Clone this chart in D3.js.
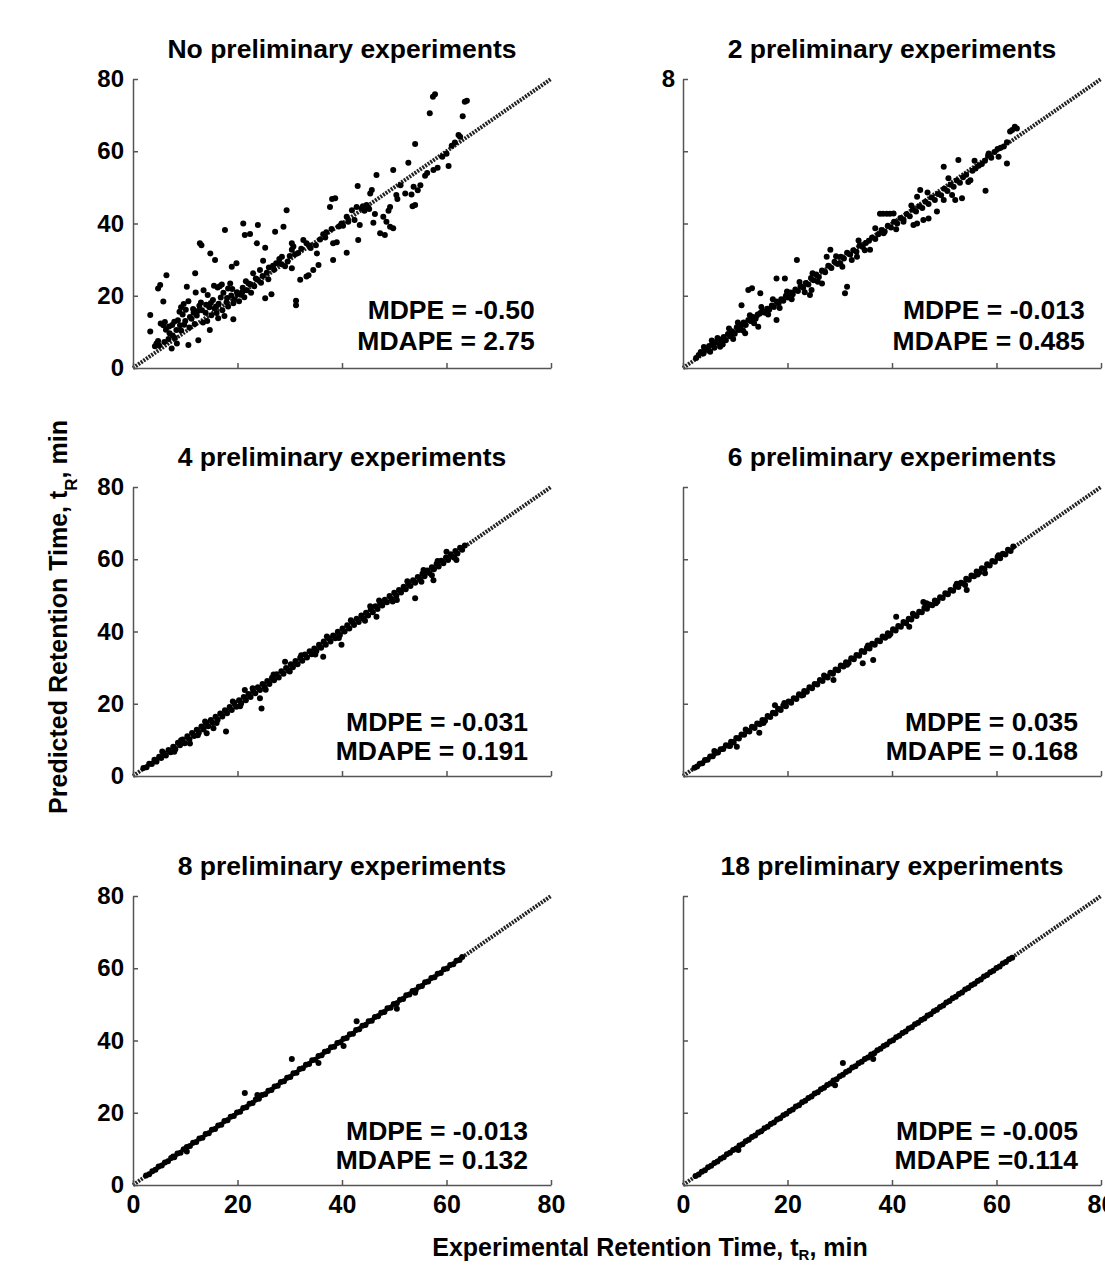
<!DOCTYPE html>
<html>
<head>
<meta charset="utf-8">
<script src="https://cdn.jsdelivr.net/npm/d3@7"></script>
<style>
body { margin: 0; background: #fff; overflow: hidden; }
text { font-family: "Liberation Sans", Arial, sans-serif; font-weight: bold; fill: #000; }
</style>
</head>
<body>
<script>
// predicted vs experimental retention time (min)
var ptsNone = [
  [3.3,14.7],[3.3,10.1],[4.5,6.8],[4.2,6.0],[4.8,7.5],[5.0,6.2],[5.2,23.0],[4.8,22.0],[5.8,18.4],[5.3,12.3],
  [5.8,11.8],[6.1,12.7],[6.4,25.7],[6.3,10.6],[6.9,11.5],[7.0,9.6],[7.4,5.4],[7.5,11.9],[7.9,12.8],[8.0,8.3],
  [8.4,6.8],[8.6,13.2],[8.9,15.6],[9.2,16.8],[9.5,14.8],[9.7,17.7],[9.2,10.4],[9.8,12.0],[10.3,22.5],[10.6,6.4],
  [10.1,16.1],[10.6,18.5],[10.8,11.2],[11.2,13.6],[11.5,16.3],[11.9,26.2],[11.8,12.2],[12.5,7.7],[12.2,14.5],[12.8,34.5],
  [13.1,34.0],[12.7,17.2],[13.0,18.1],[13.4,12.6],[13.9,15.3],[14.2,13.0],[14.7,10.5],[14.8,31.7],[14.6,16.8],[15.0,14.6],
  [15.3,18.8],[15.7,29.9],[15.9,17.0],[16.0,15.2],[16.3,13.8],[16.6,22.6],[16.8,19.5],[17.1,16.0],[17.5,14.4],[17.6,38.2],
  [17.9,18.2],[18.2,17.0],[18.6,23.4],[18.9,28.0],[18.8,20.1],[19.2,17.9],[19.2,13.5],[19.4,19.0],[19.8,29.0],[19.9,21.0],
  [20.3,18.5],[20.6,20.3],[21.0,22.2],[21.1,40.0],[21.4,36.8],[21.3,19.6],[21.8,21.5],[22.1,23.4],[22.4,37.1],[22.6,20.8],
  [23.0,26.2],[23.2,22.6],[23.7,34.5],[23.9,39.6],[23.8,24.5],[24.3,27.1],[24.5,23.6],[24.9,29.7],[25.3,33.3],[25.3,19.3],
  [25.6,26.4],[26.0,27.8],[26.5,20.4],[26.8,28.3],[27.2,37.7],[27.4,29.0],[28.0,30.2],[28.5,30.8],[28.8,39.1],[29.1,28.2],
  [29.4,43.7],[30.0,31.0],[30.4,34.5],[30.4,32.7],[30.7,33.6],[30.4,27.6],[31.2,18.6],[31.2,17.4],[31.6,31.8],[32.0,24.4],
  [32.6,35.4],[33.2,34.5],[33.2,25.3],[33.6,25.7],[34.0,33.2],[34.5,27.1],[35.2,31.7],[35.5,28.5],[35.8,35.6],[36.4,37.0],
  [37.0,37.6],[37.7,44.6],[38.3,34.5],[38.3,29.9],[38.7,47.0],[38.1,46.8],[39.0,34.8],[39.9,40.0],[40.2,39.4],[40.9,41.9],
  [40.9,31.9],[41.9,43.7],[42.4,41.0],[42.8,44.6],[43.1,35.4],[43.4,39.6],[43.0,50.4],[43.8,44.2],[44.3,43.5],[44.7,45.1],
  [45.2,44.0],[45.4,48.3],[45.7,49.3],[46.0,40.2],[46.3,42.6],[46.6,53.4],[47.3,37.3],[47.9,41.9],[48.2,36.8],[48.5,40.5],
  [49.2,39.1],[49.8,38.7],[48.9,43.5],[49.2,44.6],[49.8,54.8],[50.4,47.9],[50.6,46.8],[51.2,50.6],[52.1,48.3],[52.7,56.8],
  [53.3,48.0],[53.5,44.8],[53.7,50.2],[54.0,45.1],[54.0,62.0],[54.5,49.2],[55.0,50.6],[55.9,53.2],[56.3,54.0],[56.8,70.5],
  [57.4,75.1],[57.8,75.8],[57.5,54.8],[58.3,55.4],[59.2,58.5],[60.0,59.3],[60.4,55.9],[61.0,61.5],[61.6,62.4],[62.3,64.5],
  [62.6,64.0],[63.1,69.7],[63.5,73.7],[63.9,74.0],
  [6.0,7.2],[6.8,8.0],[7.6,9.0],[8.3,10.5],[9.0,11.8],[10.0,13.0],[10.9,14.1],[11.6,15.3],[12.4,15.8],[13.2,16.0],
  [14.0,17.5],[14.9,18.0],[15.6,16.5],[16.4,17.8],[17.3,20.8],[18.0,19.4],[19.0,21.9],[20.0,20.5],[20.9,21.0],[21.6,24.0],
  [22.5,23.2],[23.5,24.8],[24.8,25.5],[25.9,24.6],[27.0,27.2],[28.3,28.8],[29.6,29.5],[31.0,31.5],[32.2,33.0],[33.8,33.9],
  [35.0,34.0],[36.8,36.1],[38.0,38.5],[39.4,39.2],[41.2,40.5],[44.0,44.8],[45.0,44.5],
  [12.0,20.9],[13.5,21.5],[14.3,20.2],[15.5,22.8],[16.2,22.3],[17.0,23.1],[18.2,22.0]
];

var pts2 = [
  [2.5,2.8],[3.0,3.6],[3.4,4.4],[3.9,4.0],[4.3,5.2],[4.8,4.9],[5.2,4.5],[5.0,6.1],[5.6,6.5],[6.0,5.6],
  [6.3,7.2],[6.8,6.9],[7.1,5.9],[7.3,7.9],[7.8,8.6],[8.2,7.7],[8.6,9.4],[9.0,8.8],[9.4,10.2],[9.9,9.5],
  [10.3,11.3],[10.7,10.5],[11.2,11.8],[11.2,17.4],[11.6,12.6],[11.9,9.6],[12.0,11.9],[12.5,21.6],[12.5,13.3],[13.0,13.0],
  [13.2,22.1],[13.4,14.1],[13.9,13.6],[14.4,11.4],[14.3,14.8],[14.8,20.7],[14.8,15.2],[15.2,15.8],[15.7,15.3],[16.1,16.4],
  [16.5,16.1],[17.0,17.3],[17.4,16.9],[17.9,24.8],[17.9,13.3],[17.9,18.4],[18.3,17.9],[18.8,19.0],[19.2,18.6],[19.5,24.8],
  [19.7,20.0],[20.1,19.5],[20.6,20.9],[21.0,20.4],[21.5,21.7],[21.8,29.9],[22.0,21.3],[22.5,22.6],[23.0,22.2],[23.5,23.5],
  [24.0,23.1],[24.3,20.2],[24.6,21.6],[24.5,24.9],[25.0,24.3],[25.5,25.9],[26.0,25.2],[26.6,23.4],[26.6,27.0],[27.2,26.5],
  [27.5,30.8],[27.8,28.3],[28.2,32.7],[28.4,27.7],[29.0,29.4],[29.6,28.8],[30.1,29.0],[30.2,30.8],[30.8,30.3],[31.0,20.7],
  [31.4,22.5],[31.4,31.9],[32.0,31.4],[32.3,29.9],[32.6,32.6],[33.2,32.2],[33.3,30.8],[33.8,33.9],[34.4,33.5],[35.0,34.6],
  [35.8,32.7],[35.6,35.2],[36.2,36.1],[36.8,35.7],[37.4,37.0],[37.7,42.7],[38.3,42.7],[38.4,37.3],[38.0,38.2],[38.6,37.8],
  [39.0,42.7],[39.2,39.4],[39.6,42.7],[39.8,38.9],[40.3,42.8],[40.4,40.5],[41.0,40.0],[41.6,41.5],[42.2,40.5],[42.2,41.1],
  [42.8,42.6],[43.4,42.0],[44.0,43.8],[44.1,39.6],[44.6,43.3],[44.8,40.0],[44.8,47.4],[45.2,44.8],[45.4,49.3],[45.8,44.3],
  [46.0,41.0],[46.4,46.0],[47.0,41.4],[47.0,45.4],[47.6,47.2],[48.2,46.5],[48.6,43.3],[48.8,48.2],[49.4,47.8],[49.9,55.7],
  [49.9,46.5],[50.0,49.6],[50.6,49.0],[51.2,50.7],[51.5,47.9],[51.8,50.2],[52.1,46.5],[52.4,51.9],[52.7,57.6],[53.0,51.3],
  [53.4,47.0],[53.6,52.8],[54.2,53.5],[54.6,51.5],[55.0,52.0],[55.4,54.6],[56.0,55.2],[56.6,56.0],[57.2,56.5],[57.9,49.1],
  [57.8,57.4],[58.4,58.8],[58.5,59.4],[59.0,58.2],[59.6,59.8],[60.4,58.5],[60.2,60.6],[60.8,61.0],[61.4,61.3],[62.0,56.6],
  [62.0,62.5],[62.6,65.5],[63.0,65.9],[63.5,66.8],[63.9,66.3],
  [4.0,5.8],[5.5,7.6],[6.6,8.3],[7.6,6.5],[8.8,10.9],[9.6,8.0],[10.5,12.6],[11.5,10.4],[12.8,14.6],[13.6,12.4],
  [15.0,16.9],[16.3,14.8],[17.2,19.0],[18.5,16.6],[19.9,21.2],[20.8,19.0],[22.3,23.8],[23.3,21.0],[24.8,26.2],[25.8,23.9],
  [29.3,30.9],[30.5,28.0],[33.6,35.3],[34.8,32.6],[36.8,38.7],[40.8,38.4],[43.7,45.0],[46.8,48.6],[50.8,52.5],[55.8,57.4]
];

var pts4 = [
  [2.0,2.2],[2.6,2.4],[3.1,3.4],[3.6,3.3],[4.1,4.5],[4.5,4.0],[5.0,5.3],[5.4,5.0],[5.9,6.3],[6.3,5.7],
  [6.8,7.2],[7.2,6.6],[7.7,8.1],[8.1,7.4],[8.6,9.2],[9.0,8.5],[9.5,10.1],[9.9,9.1],[10.4,11.0],[10.8,10.2],
  [10.9,9.0],[11.3,11.9],[11.7,11.1],[12.2,12.8],[12.6,12.0],[13.1,13.7],[13.5,12.9],[14.0,14.6],[14.1,11.8],[14.4,13.8],
  [14.9,15.5],[15.3,14.7],[15.4,13.2],[15.8,16.4],[16.2,15.6],[16.7,17.3],[17.1,16.5],[17.6,18.2],[17.8,12.3],[18.0,17.4],
  [18.5,19.1],[18.9,18.3],[19.4,20.2],[19.8,19.2],[20.3,21.0],[20.7,20.1],[21.2,21.9],[21.4,23.8],[21.6,21.0],[22.1,22.7],
  [22.5,21.9],[23.0,23.6],[23.4,22.9],[23.9,24.6],[24.3,21.5],[24.3,23.8],[24.6,18.7],[24.8,25.5],[25.2,24.6],[25.7,26.3],
  [26.1,25.5],[26.6,27.2],[27.0,26.5],[27.5,28.2],[27.9,27.3],[28.4,29.0],[28.8,28.3],[29.1,31.6],[29.3,29.9],[29.7,29.2],
  [30.2,30.9],[30.6,30.1],[31.1,31.8],[31.5,30.9],[32.0,32.7],[32.4,31.9],[32.9,33.6],[33.3,32.8],[33.8,34.5],[34.2,33.7],
  [34.7,35.3],[35.1,34.6],[35.6,36.3],[36.0,35.5],[36.4,33.0],[36.5,37.2],[36.9,36.3],[37.4,38.1],[37.8,37.2],[38.3,38.9],
  [38.7,38.1],[39.2,39.9],[39.6,39.0],[39.9,36.3],[40.1,40.8],[40.5,40.0],[41.0,41.7],[41.4,40.8],[41.9,42.6],[42.3,41.8],
  [42.8,43.5],[43.2,42.6],[43.7,44.4],[44.1,43.6],[44.6,45.2],[45.0,44.4],[45.4,47.0],[45.5,46.1],[45.9,45.3],[46.4,47.0],
  [46.6,44.1],[46.8,46.2],[47.3,47.9],[47.7,47.2],[48.2,48.8],[48.6,48.1],[49.1,49.8],[49.5,49.0],[50.0,50.7],[50.4,49.9],
  [50.5,48.7],[50.9,51.5],[51.3,50.8],[51.8,52.4],[52.2,51.7],[52.7,53.3],[53.1,52.6],[53.6,54.2],[54.0,49.2],[54.0,53.5],
  [54.5,55.1],[54.9,54.4],[55.4,56.0],[55.6,57.0],[55.8,55.3],[56.3,56.9],[56.7,56.2],[57.2,55.6],[57.5,54.2],[57.2,57.8],
  [57.6,57.2],[58.1,58.7],[58.5,58.0],[59.0,59.6],[59.4,58.9],[59.9,60.5],[60.0,62.1],[60.3,59.8],[60.8,61.4],[61.2,60.7],
  [61.7,62.3],[61.9,59.8],[62.1,61.6],[62.6,63.2],[63.0,62.6],[63.5,63.8],
  [5.6,6.8],[7.9,6.7],[9.2,9.9],[12.4,11.3],[13.8,15.1],[16.0,14.7],[19.1,20.6],[20.5,19.3],[22.9,24.3],[25.4,23.9],
  [26.9,28.1],[30.0,28.9],[32.2,33.4],[34.9,33.6],[37.1,38.6],[39.4,38.2],[41.7,43.1],[44.4,43.0],[47.1,48.6],[49.7,48.3],
  [52.5,53.9],[55.2,53.8],[58.3,59.5],[61.5,60.4]
];

var pts6 = [
  [2.2,2.3],[2.7,2.6],[3.2,3.4],[3.7,3.5],[4.2,4.4],[4.7,4.5],[5.2,5.4],[5.7,5.5],[6.2,6.4],[6.7,6.5],
  [7.2,7.4],[7.7,7.5],[8.2,8.5],[8.7,8.4],[9.2,9.5],[9.7,9.3],[10.2,10.5],[10.3,8.1],[10.7,10.4],[11.2,11.5],
  [11.7,11.4],[12.2,12.5],[12.7,12.3],[13.2,13.6],[13.7,13.3],[14.2,14.5],[14.6,12.0],[14.7,14.3],[15.2,15.5],[15.7,15.3],
  [16.2,16.6],[16.7,16.3],[17.2,17.5],[17.6,19.6],[17.7,17.3],[18.2,18.6],[18.7,18.3],[19.2,19.5],[19.7,19.3],[20.2,20.6],
  [20.7,20.3],[21.2,21.5],[21.7,21.3],[22.2,22.6],[22.7,22.3],[23.2,23.5],[23.7,23.3],[24.2,24.6],[24.7,24.3],[25.2,25.5],
  [25.7,25.3],[26.2,26.6],[26.7,26.3],[27.2,27.5],[27.7,27.3],[28.2,28.6],[28.8,26.6],[28.7,28.3],[29.2,29.5],[29.7,29.3],
  [30.2,30.6],[30.7,30.3],[31.2,31.5],[31.7,31.3],[32.2,32.6],[32.7,32.3],[33.2,33.5],[33.7,33.3],[34.2,34.6],[34.4,31.2],
  [34.7,34.3],[35.2,35.5],[35.7,35.3],[36.2,36.6],[36.4,32.1],[36.7,36.3],[37.2,37.5],[37.7,37.3],[38.2,38.6],[38.7,38.3],
  [39.2,39.5],[39.7,39.3],[40.2,40.6],[40.8,44.1],[40.7,40.3],[41.2,41.5],[41.7,41.3],[42.2,42.6],[42.7,42.3],[43.3,41.3],
  [43.2,43.5],[43.7,43.3],[44.2,44.6],[44.7,44.3],[45.2,45.5],[45.7,45.3],[46.0,48.2],[46.6,47.8],[46.2,46.6],[46.7,46.3],
  [47.2,47.5],[47.7,47.3],[48.2,48.6],[48.7,48.3],[49.2,49.5],[49.7,49.3],[50.2,50.6],[50.7,50.3],[51.2,51.5],[51.7,51.3],
  [52.2,52.6],[52.7,52.3],[53.2,53.5],[53.7,53.3],[54.0,52.9],[54.3,51.5],[54.2,54.6],[54.7,54.3],[55.2,55.5],[55.7,55.3],
  [56.2,56.6],[56.7,56.3],[57.2,57.5],[57.8,56.1],[57.7,57.3],[58.2,58.6],[58.7,58.3],[59.2,59.5],[59.7,59.3],[60.2,60.6],
  [60.7,60.3],[61.2,61.5],[61.7,61.3],[62.2,62.6],[62.7,62.3],[63.2,63.5],
  [6.0,6.9],[9.0,8.3],[12.0,12.9],[15.4,14.7],[19.4,20.2],[23.0,22.4],[27.0,27.8],[31.4,30.8],[35.4,36.1],[39.4,38.8],
  [44.0,44.9],[48.4,47.8],[52.4,53.2],[56.4,55.8],[60.4,61.1]
];

var pts8 = [
  [2.5,2.6],[3.1,3.0],[3.7,3.8],[4.3,4.2],[4.9,5.1],[5.5,5.4],[6.1,6.2],[6.7,6.6],[7.3,7.5],[7.7,7.9],
  [7.9,7.7],[8.5,8.7],[9.1,8.9],[9.7,9.9],[10.3,9.3],[10.3,10.5],[10.9,10.8],[11.5,11.7],[12.1,11.9],[12.7,12.9],
  [13.3,13.1],[13.9,14.1],[14.5,14.3],[15.1,15.3],[15.7,15.5],[16.3,16.5],[16.9,16.7],[17.5,17.7],[18.1,17.9],[18.7,18.9],
  [19.3,19.1],[19.9,20.1],[20.5,20.3],[21.1,21.3],[21.4,25.5],[21.7,21.5],[22.3,22.5],[22.9,22.7],[23.5,23.7],[23.8,24.9],
  [24.1,23.9],[24.7,24.9],[25.3,25.1],[25.9,26.1],[26.5,26.3],[27.1,27.3],[27.7,27.5],[28.3,28.5],[28.9,28.7],[29.5,29.7],
  [30.1,29.9],[30.4,34.9],[30.7,30.9],[31.3,31.1],[31.9,32.1],[32.5,32.3],[33.1,33.3],[33.7,33.5],[34.3,34.5],[34.9,34.7],
  [35.5,33.8],[35.5,35.7],[36.1,35.9],[36.7,36.9],[37.3,37.1],[37.9,38.1],[38.5,38.3],[39.1,39.3],[39.7,39.5],[40.3,38.5],
  [40.3,40.5],[40.9,40.7],[41.5,41.7],[42.1,41.9],[42.8,45.3],[42.7,42.9],[43.3,43.1],[43.9,44.1],[44.5,44.3],[45.1,45.3],
  [45.7,45.5],[46.3,46.5],[46.9,46.7],[47.5,47.7],[48.1,47.9],[48.7,48.9],[49.3,49.1],[49.9,50.1],[50.5,48.8],[50.5,50.3],
  [51.1,51.3],[51.7,51.5],[52.3,52.5],[52.9,52.7],[53.5,53.7],[54.0,53.2],[54.1,53.9],[54.7,54.9],[55.3,55.1],[55.9,56.1],
  [56.5,56.3],[57.1,57.3],[57.7,57.5],[58.3,58.5],[58.9,58.7],[59.5,59.7],[60.1,59.9],[60.7,60.9],[61.3,61.1],[61.9,62.1],
  [62.5,62.3],[63.0,63.1]
];

var pts18 = [
  [2.4,2.5],[3.0,2.9],[3.6,3.7],[4.2,4.1],[4.8,4.9],[5.4,5.3],[6.0,6.1],[6.6,6.5],[7.2,7.3],[7.8,7.7],
  [8.4,8.5],[9.0,8.9],[9.6,9.7],[10.2,10.1],[10.6,9.7],[10.8,10.9],[11.4,11.3],[12.0,12.1],[12.6,12.5],[13.2,13.3],
  [13.8,13.7],[14.4,14.5],[15.0,14.9],[15.6,15.7],[16.2,16.1],[16.8,16.9],[17.4,17.3],[18.0,18.1],[18.6,18.5],[19.2,19.3],
  [19.8,19.7],[20.4,20.5],[21.0,20.9],[21.6,21.7],[22.2,22.1],[22.8,22.9],[23.4,23.3],[24.0,24.1],[24.6,24.5],[25.2,25.3],
  [25.8,25.7],[26.4,26.5],[27.0,26.9],[27.6,27.7],[28.2,28.1],[28.8,28.9],[29.1,27.6],[29.4,29.3],[30.0,30.1],[30.6,33.8],
  [30.6,30.5],[31.2,31.3],[31.8,31.7],[32.4,32.5],[33.0,32.9],[33.6,33.7],[34.2,34.1],[34.8,34.9],[35.4,35.3],[36.0,36.1],
  [36.4,34.9],[36.6,36.5],[37.2,37.3],[37.8,37.7],[38.4,38.5],[39.0,38.9],[39.6,39.7],[40.2,40.1],[40.8,40.9],[41.4,41.3],
  [42.0,42.1],[42.6,42.5],[43.2,43.3],[43.8,43.7],[44.4,44.5],[45.0,44.9],[45.6,45.7],[46.2,46.1],[46.8,46.9],[47.4,47.3],
  [48.0,48.1],[48.6,48.5],[49.2,49.3],[49.8,49.7],[50.4,50.5],[51.0,50.9],[51.6,51.7],[52.2,52.1],[52.8,52.9],[53.4,53.3],
  [54.0,54.1],[54.6,54.5],[55.2,55.3],[55.8,55.7],[56.4,56.5],[57.0,56.9],[57.6,57.7],[58.2,58.1],[58.8,58.9],[59.4,59.3],
  [60.0,60.1],[60.6,60.5],[61.2,61.3],[61.8,61.7],[62.4,62.5],[63.0,62.9]
];

var titles = ["No preliminary experiments", "2 preliminary experiments", "4 preliminary experiments",
              "6 preliminary experiments", "8 preliminary experiments", "18 preliminary experiments"];
var mdpe  = ["MDPE = -0.50", "MDPE = -0.013", "MDPE = -0.031", "MDPE = 0.035", "MDPE = -0.013", "MDPE = -0.005"];
var mdape = ["MDAPE = 2.75", "MDAPE = 0.485", "MDAPE = 0.191", "MDAPE = 0.168", "MDAPE = 0.132", "MDAPE =0.114"];
var tickValues = [0, 20, 40, 60, 80];

var panels = [ptsNone, pts2, pts4, pts6, pts8, pts18];

var width = 1105, height = 1268;
var colRanges = [[133, 551], [683, 1101]];
var rowBottoms = [368, 776, 1185];
var plotH = 289;

var svg = d3.select("body").append("svg")
    .attr("width", width)
    .attr("height", height);

panels.forEach(function(pts, i){
    var col = i % 2, row = Math.floor(i / 2);
    var x = d3.scaleLinear().domain([0, 80]).range(colRanges[col]);
    var y = d3.scaleLinear().domain([0, 80]).range([rowBottoms[row], rowBottoms[row] - plotH]);
    var g = svg.append("g").attr("class", "panel");

    // 1:1 line
    g.append("line")
        .attr("x1", x(0)).attr("y1", y(0))
        .attr("x2", x(80)).attr("y2", y(80))
        .attr("stroke", "#222")
        .attr("stroke-width", 4)
        .attr("stroke-dasharray", "2,1.2");

    g.selectAll("circle")
        .data(pts)
        .enter()
        .append("circle")
            .attr("cx", d => x(d[0]))
            .attr("cy", d => y(d[1]))
            .attr("r", 3)
            .attr("fill", "#000");

    var yFmt;
    if (col === 0) yFmt = d3.format("d");
    else if (row === 0) yFmt = d => d === 80 ? "8" : "";
    else yFmt = () => "";

    var yAxis = d3.axisLeft(y).tickValues(tickValues)
        .tickSizeInner(-5).tickSizeOuter(0)
        .tickPadding(col === 0 ? 9 : 8)
        .tickFormat(yFmt);
    var xAxis = d3.axisBottom(x).tickValues(tickValues)
        .tickSizeInner(-5).tickSizeOuter(0)
        .tickPadding(10)
        .tickFormat(row === 2 ? d3.format("d") : () => "");

    var yg = g.append("g")
        .attr("transform", "translate(" + colRanges[col][0] + ",0)")
        .call(yAxis);
    var xg = g.append("g")
        .attr("transform", "translate(0," + rowBottoms[row] + ")")
        .call(xAxis);

    [yg, xg].forEach(function(ax){
        ax.selectAll(".domain, .tick line").attr("stroke", "#555").attr("stroke-width", 1.5);
        ax.selectAll("text").style("font-size", "24px");
    });
    xg.selectAll("text").style("font-size", "25px");

    g.append("text")
        .attr("x", (colRanges[col][0] + colRanges[col][1]) / 2)
        .attr("y", y(80) - 21)
        .attr("text-anchor", "middle")
        .style("font-size", "26.5px")
        .text(titles[i]);

    var sx = row === 0 ? 76.9 : 75.6;
    var b1 = row === 0 ? 49 : 45, b2 = row === 0 ? 18 : 16;
    g.append("text")
        .attr("x", x(sx)).attr("y", rowBottoms[row] - b1)
        .attr("text-anchor", "end")
        .style("font-size", "26.5px")
        .text(mdpe[i]);
    g.append("text")
        .attr("x", x(sx)).attr("y", rowBottoms[row] - b2)
        .attr("text-anchor", "end")
        .style("font-size", "26.5px")
        .text(mdape[i]);
});

// axis titles
var yt = svg.append("text")
    .attr("transform", "translate(67,617) rotate(-90)")
    .attr("text-anchor", "middle")
    .style("font-size", "25px");
yt.append("tspan").text("Predicted Retention Time, t");
yt.append("tspan").attr("baseline-shift", "sub").style("font-size", "17px").text("R");
yt.append("tspan").text(", min");

var xt = svg.append("text")
    .attr("x", 650).attr("y", 1256)
    .attr("text-anchor", "middle")
    .style("font-size", "25px");
xt.append("tspan").text("Experimental Retention Time, t");
xt.append("tspan").attr("baseline-shift", "-4").style("font-size", "15px").text("R");
xt.append("tspan").text(", min");
</script>
</body>
</html>
